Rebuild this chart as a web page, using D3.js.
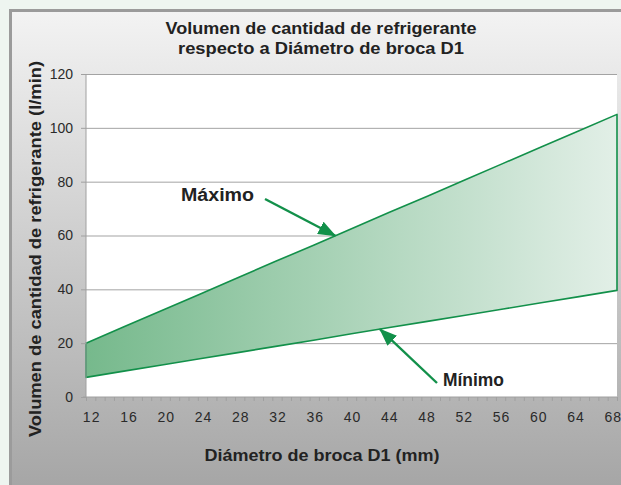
<!DOCTYPE html>
<html>
<head>
<meta charset="utf-8">
<script src="https://cdn.jsdelivr.net/npm/d3@7"></script>
<style>
  html, body { margin: 0; padding: 0; background: #eef5f0; }
  svg { display: block; }
</style>
</head>
<body>
<svg id="chart" width="621" height="485"></svg>
<script>
// Drill diameter D1 (mm) and coolant volume range (l/min)
const diametros = [12, 16, 20, 24, 28, 32, 36, 40, 44, 48, 52, 56, 60, 64, 68];
const maximo    = [20, 26.1, 32.1, 38.2, 44.3, 50.4, 56.4, 62.5, 68.6, 74.6, 80.7, 86.8, 92.9, 98.9, 105];
const minimo    = [7.3, 9.6, 11.9, 14.2, 16.5, 18.8, 21.1, 23.5, 25.8, 28.1, 30.4, 32.7, 35.0, 37.3, 39.6];
const yTicks    = [0, 20, 40, 60, 80, 100, 120];
const xLabels   = [12, 16, 20, 24, 28, 32, 36, 40, 44, 48, 52, 56, 60, 64, 68];

const titulo = ["Volumen de cantidad de refrigerante", "respecto a Diámetro de broca D1"];
const tituloX = "Diámetro de broca D1 (mm)";
const tituloY = "Volumen de cantidad de refrigerante (l/min)";

const svg = d3.select("#chart");
const W = 621, H = 485;
const plot = { left: 86, right: 617, top: 74, bottom: 397 };
const font = "'Liberation Sans', Arial, Helvetica, sans-serif";
const narrow = "'Liberation Sans Narrow', 'Liberation Sans', Arial, sans-serif";
const verde = "#12904a";

const defs = svg.append("defs");

// Panel background: light grey fading to darker grey
const gPanel = defs.append("linearGradient").attr("id", "panelGrad")
  .attr("x1", 0).attr("y1", 0).attr("x2", 0).attr("y2", 1);
gPanel.append("stop").attr("offset", 0).attr("stop-color", "#f3f3f3");
gPanel.append("stop").attr("offset", 1).attr("stop-color", "#a6a6a6");

// Band fill: saturated green on the left fading to pale green
const gArea = defs.append("linearGradient").attr("id", "areaGrad")
  .attr("gradientUnits", "userSpaceOnUse")
  .attr("x1", plot.left).attr("y1", 0).attr("x2", plot.right).attr("y2", 0);
gArea.append("stop").attr("offset", 0).attr("stop-color", "#76b98c");
gArea.append("stop").attr("offset", 1).attr("stop-color", "#e2efe7");

const marker = defs.append("marker").attr("id", "flecha")
  .attr("viewBox", "0 0 18 14").attr("refX", 17).attr("refY", 7)
  .attr("markerWidth", 18).attr("markerHeight", 14)
  .attr("markerUnits", "userSpaceOnUse")
  .attr("orient", "auto");
marker.append("path").attr("d", "M0,0 L18,7 L0,14 Z").attr("fill", verde);

// Outer frame
svg.append("rect").attr("x", 0).attr("y", 0).attr("width", W).attr("height", H).attr("fill", "#eef5f0");
svg.append("rect").attr("x", 9).attr("y", 9).attr("width", W - 9).attr("height", H - 9).attr("fill", "#9b9b9b");
svg.append("rect").attr("x", 12).attr("y", 12).attr("width", W - 12).attr("height", H - 12).attr("fill", "url(#panelGrad)");

// Plot area
svg.append("rect")
  .attr("x", plot.left).attr("y", plot.top)
  .attr("width", plot.right - plot.left).attr("height", plot.bottom - plot.top)
  .attr("fill", "#ffffff");

const xData = d3.scaleLinear().domain([12, 68]).range([plot.left, plot.right]);
const xCat  = d3.scaleLinear().domain([11.5, 68.5]).range([plot.left, plot.right]);
const y = d3.scaleLinear().domain([0, 120]).range([plot.bottom, plot.top]);

// Horizontal gridlines
svg.append("g").selectAll("line").data(yTicks.filter(t => t > 0)).join("line")
  .attr("x1", plot.left).attr("x2", plot.right)
  .attr("y1", d => y(d) + 0.5).attr("y2", d => y(d) + 0.5)
  .attr("stroke", "#a3a3a3").attr("stroke-width", 1);

// Band between minimum and maximum
const filas = diametros.map((d, i) => ({ d, max: maximo[i], min: minimo[i] }));
svg.append("path").datum(filas)
  .attr("d", d3.area().x(r => xData(r.d)).y0(r => y(r.min)).y1(r => y(r.max)))
  .attr("fill", "url(#areaGrad)");
const borde = filas.map(r => [xData(r.d), y(r.max)])
  .concat(filas.slice().reverse().map(r => [xData(r.d), y(r.min)]));
svg.append("path")
  .attr("d", d3.line()(borde) + "Z")
  .attr("fill", "none").attr("stroke", verde).attr("stroke-width", 1.6)
  .attr("stroke-linejoin", "round");

// Y axis
const yAxis = d3.axisLeft(y).tickValues(yTicks).tickSize(5).tickPadding(8);
const gy = svg.append("g").attr("transform", `translate(${plot.left},0)`).call(yAxis);
gy.select(".domain").attr("stroke", "#a0a0a0").attr("d", `M0,${plot.top}V${plot.bottom}`);
gy.selectAll(".tick line").attr("stroke", "#a0a0a0");
gy.selectAll("text").attr("font-family", narrow).attr("font-size", 14).attr("fill", "#2a2a2a");

// X axis: one minor tick per millimetre, labels every 4 mm
const cortes = d3.range(11.5, 69, 1);
const xAxis = d3.axisBottom(xCat).tickValues(cortes).tickSize(4).tickFormat("");
const gx = svg.append("g").attr("transform", `translate(0,${plot.bottom})`).call(xAxis);
gx.select(".domain").attr("stroke", "#a0a0a0").attr("d", `M${plot.left - 3},0H${plot.right}`);
gx.selectAll(".tick line").attr("stroke", "#a0a0a0");

svg.append("g").selectAll("text").data(xLabels).join("text")
  .attr("x", d => xCat(d) + 1).attr("y", plot.bottom + 25)
  .attr("text-anchor", "middle")
  .attr("font-family", narrow).attr("font-size", 14).attr("letter-spacing", 1)
  .attr("fill", "#2a2a2a").text(d => d);

// Titles
const anchosTitulo = [311, 286];
svg.append("g").selectAll("text").data(titulo).join("text")
  .attr("x", 321).attr("y", (d, i) => 34 + i * 20)
  .attr("text-anchor", "middle")
  .attr("font-family", font).attr("font-weight", "bold").attr("font-size", 17)
  .attr("textLength", (d, i) => anchosTitulo[i]).attr("lengthAdjust", "spacingAndGlyphs")
  .attr("fill", "#222").text(d => d);

svg.append("text")
  .attr("x", 322).attr("y", 461)
  .attr("text-anchor", "middle")
  .attr("font-family", font).attr("font-weight", "bold").attr("font-size", 17)
  .attr("textLength", 235).attr("lengthAdjust", "spacingAndGlyphs")
  .attr("fill", "#222").text(tituloX);

svg.append("text")
  .attr("transform", "translate(41,249) rotate(-90)")
  .attr("text-anchor", "middle")
  .attr("font-family", font).attr("font-weight", "bold").attr("font-size", 17)
  .attr("textLength", 376).attr("lengthAdjust", "spacingAndGlyphs")
  .attr("fill", "#222").text(tituloY);

// Annotations
const notas = [
  { texto: "Máximo", tx: 181, ty: 201, ancho: 73, d: 38.3, serie: maximo, desde: [265, 199] },
  { texto: "Mínimo", tx: 443, ty: 386, ancho: 61, d: 43, serie: minimo, desde: [437, 383] }
];
notas.forEach(n => {
  const i = diametros.findIndex(v => v >= n.d);
  const v = n.serie[i - 1] + (n.serie[i] - n.serie[i - 1]) * (n.d - diametros[i - 1]) / (diametros[i] - diametros[i - 1]);
  svg.append("line")
    .attr("x1", n.desde[0]).attr("y1", n.desde[1])
    .attr("x2", xData(n.d)).attr("y2", y(v))
    .attr("stroke", verde).attr("stroke-width", 2.4)
    .attr("marker-end", "url(#flecha)");
  svg.append("text")
    .attr("x", n.tx).attr("y", n.ty)
    .attr("font-family", font).attr("font-weight", "bold").attr("font-size", 18)
    .attr("textLength", n.ancho).attr("lengthAdjust", "spacingAndGlyphs")
    .attr("fill", "#222").text(n.texto);
});
</script>
</body>
</html>
